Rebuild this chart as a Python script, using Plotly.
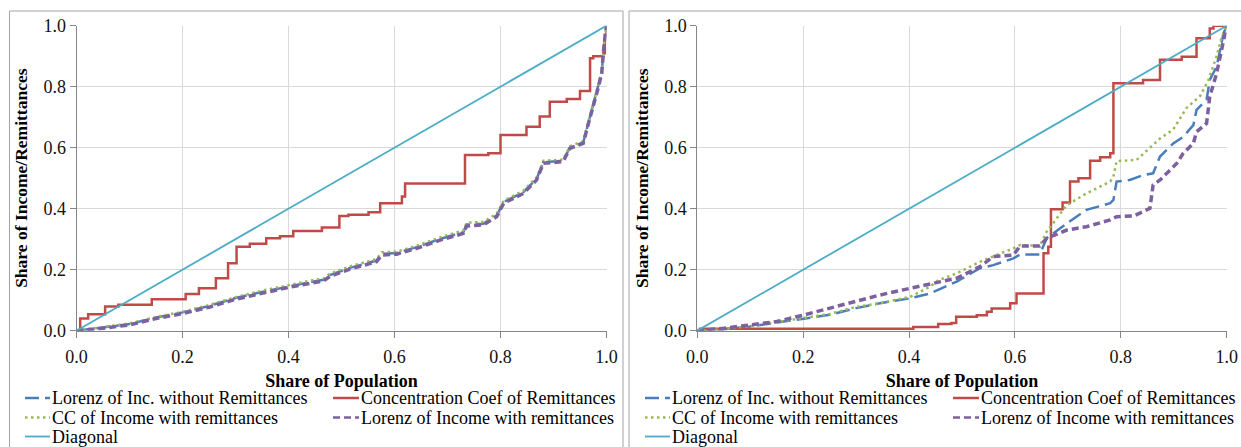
import plotly.graph_objects as go

# ---------------- data ----------------
# Left chart
left_lorenz_wo_x = [0, 0.05, 0.1, 0.15, 0.2, 0.25, 0.3, 0.35, 0.4, 0.44, 0.466, 0.478, 0.516, 0.566, 0.576, 0.604,
                    0.642, 0.686, 0.73, 0.736, 0.768, 0.793, 0.806, 0.843, 0.868, 0.881, 0.918, 0.931, 0.956,
                    0.966, 0.975, 0.985, 0.991, 0.995, 1.0]
left_lorenz_wo_y = [0, 0.011, 0.022, 0.043, 0.06, 0.081, 0.107, 0.127, 0.146, 0.159, 0.167, 0.182, 0.206, 0.23,
                    0.252, 0.255, 0.274, 0.301, 0.323, 0.348, 0.351, 0.378, 0.422, 0.454, 0.498, 0.552, 0.557,
                    0.601, 0.617, 0.683, 0.737, 0.803, 0.847, 0.933, 1.0]

left_conc_x = [0, 0.007, 0.022, 0.054, 0.079, 0.142, 0.206, 0.231, 0.263, 0.286, 0.302, 0.327, 0.358, 0.384,
               0.409, 0.463, 0.496, 0.513, 0.551, 0.573, 0.614, 0.62, 0.733, 0.777, 0.8, 0.849, 0.874, 0.893,
               0.925, 0.95, 0.969, 0.975, 0.994, 0.997, 1.0]
left_conc_y = [0, 0.04, 0.054, 0.079, 0.085, 0.103, 0.12, 0.139, 0.172, 0.221, 0.275, 0.285, 0.303, 0.31,
               0.327, 0.338, 0.376, 0.38, 0.388, 0.418, 0.44, 0.483, 0.576, 0.582, 0.642, 0.669, 0.702, 0.751,
               0.76, 0.786, 0.893, 0.9, 0.91, 0.97, 1.0]

left_cc_inc_x = left_lorenz_wo_x
left_cc_inc_y = [0, 0.012, 0.024, 0.045, 0.062, 0.084, 0.11, 0.131, 0.15, 0.164, 0.171, 0.187, 0.211, 0.235,
                 0.257, 0.259, 0.279, 0.306, 0.329, 0.354, 0.357, 0.384, 0.426, 0.459, 0.502, 0.557, 0.561,
                 0.605, 0.621, 0.688, 0.741, 0.806, 0.851, 0.936, 1.0]

left_lorenz_w_x = left_lorenz_wo_x
left_lorenz_w_y = [0, 0.008, 0.019, 0.04, 0.056, 0.077, 0.103, 0.123, 0.142, 0.155, 0.163, 0.178, 0.202, 0.226,
                   0.248, 0.251, 0.27, 0.297, 0.319, 0.343, 0.347, 0.374, 0.418, 0.45, 0.494, 0.549, 0.554,
                   0.598, 0.614, 0.68, 0.734, 0.8, 0.844, 0.931, 1.0]

# Right chart
right_lorenz_wo_x = [0, 0.05, 0.1, 0.15, 0.2, 0.25, 0.3, 0.345, 0.402, 0.439, 0.49, 0.534, 0.559, 0.597, 0.61,
                     0.647, 0.66, 0.698, 0.735, 0.78, 0.786, 0.792, 0.817, 0.842, 0.861, 0.874, 0.899, 0.918,
                     0.937, 0.943, 0.962, 0.968, 0.981, 0.994, 1.0]
right_lorenz_wo_y = [0, 0.005, 0.014, 0.027, 0.038, 0.052, 0.074, 0.09, 0.106, 0.122, 0.161, 0.205, 0.215,
                     0.237, 0.25, 0.25, 0.303, 0.352, 0.396, 0.418, 0.429, 0.489, 0.494, 0.51, 0.516, 0.571,
                     0.614, 0.636, 0.674, 0.724, 0.757, 0.822, 0.866, 0.975, 1.0]

right_conc_x = [0, 0.005, 0.408, 0.455, 0.48, 0.489, 0.528, 0.547, 0.556, 0.591, 0.603, 0.654, 0.663, 0.668,
                0.69, 0.704, 0.72, 0.742, 0.761, 0.78, 0.786, 0.842, 0.874, 0.915, 0.943, 0.968, 0.975, 1.0]
right_conc_y = [0, 0.006, 0.012, 0.022, 0.025, 0.046, 0.051, 0.062, 0.073, 0.09, 0.122, 0.254, 0.275, 0.398,
                0.42, 0.489, 0.5, 0.557, 0.569, 0.582, 0.811, 0.822, 0.888, 0.898, 0.959, 0.991, 1.0, 1.0]

right_cc_inc_x = [0, 0.05, 0.1, 0.15, 0.2, 0.25, 0.3, 0.345, 0.402, 0.439, 0.455, 0.49, 0.534, 0.559, 0.597,
                  0.61, 0.647, 0.66, 0.698, 0.735, 0.78, 0.786, 0.792, 0.83, 0.849, 0.874, 0.899, 0.924, 0.95,
                  0.965, 0.981, 0.99, 1.0]
right_cc_inc_y = [0, 0.005, 0.015, 0.028, 0.04, 0.055, 0.078, 0.09, 0.111, 0.144, 0.165, 0.188, 0.226, 0.243,
                  0.27, 0.281, 0.278, 0.325, 0.412, 0.45, 0.489, 0.505, 0.556, 0.56, 0.59, 0.63, 0.66, 0.73,
                  0.77, 0.82, 0.9, 0.96, 1.0]

right_lorenz_w_x = [0, 0.05, 0.1, 0.15, 0.2, 0.25, 0.3, 0.345, 0.402, 0.439, 0.49, 0.534, 0.559, 0.597, 0.61,
                    0.647, 0.66, 0.698, 0.735, 0.78, 0.792, 0.824, 0.855, 0.861, 0.874, 0.906, 0.918, 0.937,
                    0.943, 0.962, 0.968, 0.981, 0.994, 1.0]
right_lorenz_w_y = [0, 0.008, 0.019, 0.03, 0.051, 0.073, 0.095, 0.117, 0.139, 0.153, 0.172, 0.21, 0.243, 0.248,
                    0.278, 0.278, 0.303, 0.33, 0.341, 0.363, 0.374, 0.376, 0.401, 0.478, 0.494, 0.549, 0.582,
                    0.614, 0.652, 0.68, 0.767, 0.844, 0.942, 1.0]

diag_x = [0, 1]
diag_y = [0, 1]

tick_vals = [0, 0.2, 0.4, 0.6, 0.8, 1.0]
tick_text = ["0.0", "0.2", "0.4", "0.6", "0.8", "1.0"]

names = ["Lorenz of Inc. without Remittances", "Concentration Coef of Remittances",
         "CC of Income with remittances", "Lorenz of Income with remittances", "Diagonal"]

# ---------------- styling ----------------
W, H = 1241, 447
FONT = "Liberation Serif, Times New Roman, serif"
styles = {
    names[0]: dict(color="#4a7ebb", width=2.5, dash="14px,6px"),
    names[1]: dict(color="#be4b48", width=2.5, dash="solid"),
    names[2]: dict(color="#98b954", width=2.5, dash="2.5px,3.5px"),
    names[3]: dict(color="#7d60a0", width=3.5, dash="7px,4px"),
    names[4]: dict(color="#4bacc6", width=1.8, dash="solid"),
}
shapes_kind = {names[1]: "hv"}


def px(x):
    return x / W


def py(y):
    return 1 - y / H


fig = go.Figure()

panels = [
    ("x", "y", [(left_lorenz_wo_x, left_lorenz_wo_y), (left_conc_x, left_conc_y),
                (left_cc_inc_x, left_cc_inc_y), (left_lorenz_w_x, left_lorenz_w_y), (diag_x, diag_y)]),
    ("x2", "y2", [(right_lorenz_wo_x, right_lorenz_wo_y), (right_conc_x, right_conc_y),
                  (right_cc_inc_x, right_cc_inc_y), (right_lorenz_w_x, right_lorenz_w_y), (diag_x, diag_y)]),
]
for xa, ya, series in panels:
    for name, (sx, sy) in zip(names, series):
        st = styles[name]
        fig.add_trace(go.Scatter(
            x=sx, y=sy, name=name, mode="lines", xaxis=xa, yaxis=ya, showlegend=False,
            line=dict(color=st["color"], width=st["width"], dash=st["dash"],
                      shape=shapes_kind.get(name, "linear")),
            hoverinfo="skip"))

axis_common = dict(
    range=[0, 1], tickvals=tick_vals, ticktext=tick_text,
    showgrid=True, gridcolor="#d9d9d9", gridwidth=1,
    showline=True, linecolor="#868686", linewidth=1,
    ticks="outside", ticklen=6, tickcolor="#868686",
    zeroline=False, tickfont=dict(family=FONT, size=18, color="#111111"),
    fixedrange=True, automargin=False,
)
x_title_font = dict(family=FONT, size=18, color="#000000")
y_title_font = dict(family=FONT, size=17.5, color="#000000")

yd = [py(330.7), py(25.7)]
fig.update_layout(
    width=W, height=H, margin=dict(l=0, r=0, t=0, b=0),
    paper_bgcolor="white", plot_bgcolor="white",
    xaxis=dict(domain=[px(76.5), px(606.5)], anchor="y", ticklabelstandoff=4,
               title=dict(text="<b>Share of Population</b>", font=x_title_font, standoff=8),
               **axis_common),
    yaxis=dict(domain=yd, anchor="x",
               title=dict(text="<b>Share of Income/Remittances</b>", font=y_title_font, standoff=11),
               **axis_common),
    xaxis2=dict(domain=[px(697.3), px(1226.7)], anchor="y2", ticklabelstandoff=4,
                title=dict(text="<b>Share of Population</b>", font=x_title_font, standoff=8),
                **axis_common),
    yaxis2=dict(domain=yd, anchor="x2",
                title=dict(text="<b>Share of Income/Remittances</b>", font=y_title_font, standoff=11),
                **axis_common),
    showlegend=False,
)

# chart frames
frame = dict(type="rect", xref="paper", yref="paper", line=dict(color="#a3a3a3", width=1),
             fillcolor="rgba(0,0,0,0)", layer="below")
fig.add_shape(x0=px(9.5), x1=px(623), y0=-0.1, y1=py(11), **frame)
fig.add_shape(x0=px(629), x1=1.1, y0=-0.1, y1=py(11), **frame)

# legend entries (symbol + label) for each chart
rows_y = [398, 417.5, 436.5]
legend_layout = [
    # (symbol start, symbol end, text start) per column, for each chart
    [(25, 50, 50.5), (333, 359, 360)],
    [(645, 670, 670.7), (953, 979, 980)],
]
entry_slots = {names[0]: (0, 0), names[2]: (0, 1), names[4]: (0, 2),
               names[1]: (1, 0), names[3]: (1, 1)}
for cols in legend_layout:
    for name in names:
        c, r = entry_slots[name]
        x0, x1, xt = cols[c]
        st = styles[name]
        yy = py(rows_y[r])
        fig.add_shape(type="line", xref="paper", yref="paper", x0=px(x0), x1=px(x1), y0=yy, y1=yy,
                      line=dict(color=st["color"], width=min(st["width"], 2.5), dash=st["dash"]))
        fig.add_annotation(xref="paper", yref="paper", x=px(xt), y=yy, xanchor="left", yanchor="middle",
                           text=name, showarrow=False, borderpad=0,
                           font=dict(family=FONT, size=18, color="#000000"))

fig.write_html("out.html")
